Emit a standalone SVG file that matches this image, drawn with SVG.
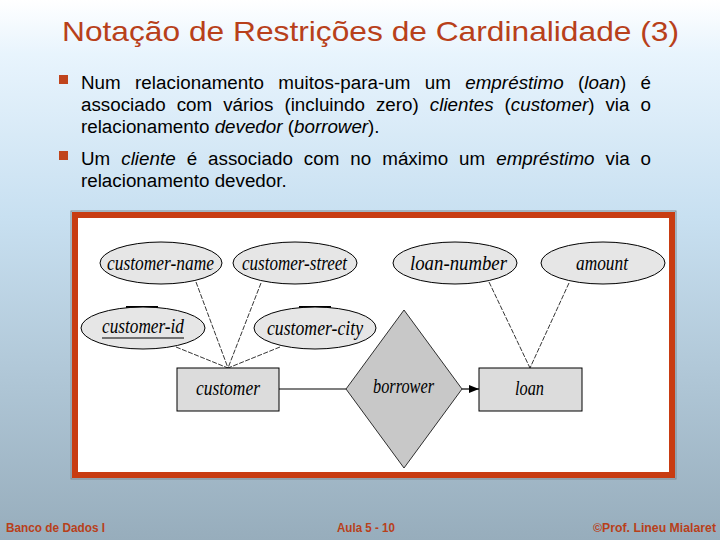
<svg xmlns="http://www.w3.org/2000/svg" width="720" height="540" viewBox="0 0 720 540">
<defs>
<linearGradient id="bg" x1="0" y1="0" x2="0" y2="1">
<stop offset="0" stop-color="#ffffff"/>
<stop offset="0.1" stop-color="#e8f4fd"/>
<stop offset="0.4" stop-color="#c8e0f1"/>
<stop offset="1" stop-color="#97adbc"/>
</linearGradient>
<marker id="arr" viewBox="0 0 10 10" refX="10" refY="5" markerWidth="10" markerHeight="10" markerUnits="userSpaceOnUse" orient="auto">
<path d="M0,1 L10,5 L0,9 Z" fill="#000"/>
</marker>
<style>
.title{font-family:"Liberation Sans",Arial,sans-serif;font-size:28px;fill:#b8401a}
.body{font-family:"Liberation Sans",Arial,sans-serif;font-size:18.8px;fill:#000}
.it{font-style:italic}
.bul{fill:#c0441c}
.foot{font-family:"Liberation Sans",Arial,sans-serif;font-size:12px;font-weight:bold;fill:#b8401a}
.attr{fill:#e6e6e6;stroke:#000;stroke-width:1}
.ent{fill:#dcdcdc;stroke:#000;stroke-width:1}
.rel{fill:#c8c8c8;stroke:#000;stroke-width:0.8}
.lbl{font-family:"Liberation Serif","Times New Roman",serif;font-style:italic;font-size:21px;fill:#000}
.att{stroke:#000;stroke-width:0.8;stroke-dasharray:5 1.5;fill:none}
.solid{stroke:#000;stroke-width:1.2;fill:none}
</style>
</defs>
<rect x="0" y="0" width="720" height="540" fill="url(#bg)"/>
<text class="title" x="62" y="41" textLength="617" lengthAdjust="spacingAndGlyphs">Notação de Restrições de Cardinalidade (3)</text>

<rect class="bul" x="59" y="75" width="9" height="9"/>
<text class="body" x="81" y="89" word-spacing="9" textLength="570" lengthAdjust="spacing">Num relacionamento muitos-para-um um <tspan class="it">empréstimo</tspan> (<tspan class="it">loan</tspan>) é</text>
<text class="body" x="81" y="111" word-spacing="5.8" textLength="570" lengthAdjust="spacing">associado com vários (incluindo zero) <tspan class="it">clientes</tspan> (<tspan class="it">customer</tspan>) via o</text>
<text class="body" x="81" y="133">relacionamento <tspan class="it">devedor</tspan> (<tspan class="it">borrower</tspan>).</text>
<rect class="bul" x="59" y="151" width="9" height="9"/>
<text class="body" x="81" y="165" word-spacing="5.7" textLength="570" lengthAdjust="spacing">Um <tspan class="it">cliente</tspan> é associado com no máximo um <tspan class="it">empréstimo</tspan> via o</text>
<text class="body" x="81" y="187">relacionamento devedor.</text>

<rect x="71" y="211" width="605" height="268" fill="none" stroke="#7f8a92" stroke-width="1"/>
<rect x="75" y="215" width="597" height="260" fill="#ffffff" stroke="#c83c12" stroke-width="6"/>

<g id="connectors">
<line class="att" x1="196" y1="282" x2="228" y2="368"/>
<line class="att" x1="261" y1="283" x2="228" y2="368"/>
<line class="att" x1="176" y1="347" x2="228" y2="368"/>
<line class="att" x1="280" y1="347" x2="228" y2="368"/>
<line class="att" x1="489" y1="282" x2="530" y2="368"/>
<line class="att" x1="569" y1="283" x2="530" y2="368"/>
<line class="solid" x1="279" y1="389" x2="346" y2="389"/>
<line class="solid" x1="462" y1="389" x2="479" y2="389" marker-end="url(#arr)"/>
</g>

<g id="customer-name">
<ellipse class="attr" cx="161" cy="263" rx="61" ry="21"/>
<text class="lbl" x="107" y="270" textLength="107" lengthAdjust="spacingAndGlyphs">customer-name</text>
</g>
<g id="customer-street">
<ellipse class="attr" cx="295" cy="263" rx="62" ry="21"/>
<text class="lbl" x="242" y="270" textLength="105" lengthAdjust="spacingAndGlyphs">customer-street</text>
</g>
<g id="customer-id">
<line x1="126" y1="307" x2="158" y2="307" stroke="#000" stroke-width="2"/>
<ellipse class="attr" cx="143" cy="328" rx="62" ry="21"/>
<text class="lbl" x="102" y="333" textLength="82" lengthAdjust="spacingAndGlyphs">customer-id</text>
<line x1="102" y1="338" x2="184" y2="338" stroke="#000" stroke-width="1"/>
</g>
<g id="customer-city">
<line x1="299" y1="307" x2="331" y2="307" stroke="#000" stroke-width="2"/>
<ellipse class="attr" cx="315" cy="328" rx="61" ry="21"/>
<text class="lbl" x="267" y="335" textLength="96" lengthAdjust="spacingAndGlyphs">customer-city</text>
</g>
<g id="loan-number">
<ellipse class="attr" cx="455" cy="263" rx="62" ry="21"/>
<text class="lbl" x="410" y="270" textLength="97" lengthAdjust="spacingAndGlyphs">loan-number</text>
</g>
<g id="amount">
<ellipse class="attr" cx="603" cy="263" rx="62" ry="21"/>
<text class="lbl" x="576" y="270" textLength="52" lengthAdjust="spacingAndGlyphs">amount</text>
</g>
<g id="customer">
<rect class="ent" x="177" y="368" width="102" height="43"/>
<text class="lbl" x="196" y="395" textLength="64" lengthAdjust="spacingAndGlyphs">customer</text>
</g>
<g id="borrower">
<polygon class="rel" points="404,310 462,389 404,468 346,389"/>
<text class="lbl" x="373" y="393" textLength="61" lengthAdjust="spacingAndGlyphs">borrower</text>
</g>
<g id="loan">
<rect class="ent" x="479" y="368" width="103" height="43"/>
<text class="lbl" x="515" y="395" textLength="29" lengthAdjust="spacingAndGlyphs">loan</text>
</g>

<text class="foot" x="6" y="532" textLength="99" lengthAdjust="spacingAndGlyphs">Banco de Dados I</text>
<text class="foot" x="337" y="532" textLength="58" lengthAdjust="spacingAndGlyphs">Aula 5 - 10</text>
<text class="foot" x="593" y="532" textLength="123" lengthAdjust="spacingAndGlyphs">©Prof. Lineu Mialaret</text>
</svg>
